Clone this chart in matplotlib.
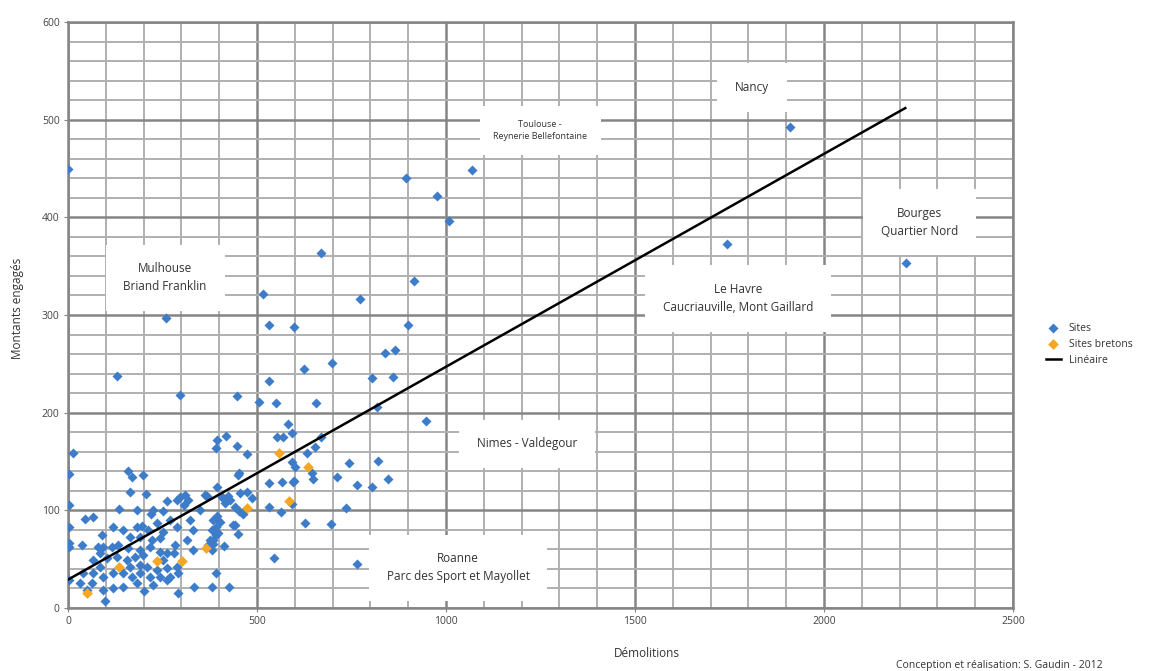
import numpy as np
import matplotlib
matplotlib.use("Agg")
import matplotlib.pyplot as plt
from matplotlib.ticker import MultipleLocator

plt.rcParams['font.family'] = ['Open Sans', 'DejaVu Sans']

# Sites (bleu) : démolitions, montants engagés
sites_x = [0, 1910, 894, 976, 1069, 1008, 1744, 2217,
           669, 516, 532, 598, 259, 773, 915, 900,
           130, 624, 698, 532, 296, 447,
           839, 865, 804, 860, 505, 550, 656, 817,
           582, 947, 592, 553, 569, 669,
           632, 653, 593, 600, 645, 649, 744, 821, 712, 765, 804, 847, 566, 532, 596,
           593, 532, 564, 735, 627, 696, 545, 764,
           487, 473, 450, 474, 448, 418, 395, 392, 453, 462, 451, 442, 424, 428, 410, 394,
           427, 380, 334, 392, 292, 202, 98,
           12, 3, 3, 3, 3, 3, 3,
           37, 45, 66, 159, 169, 198, 164, 206, 135, 182, 220, 225, 251, 261, 288, 296,
           310, 318, 307, 349, 368, 394, 407, 415, 455, 452, 384, 391, 392, 384, 371, 413,
           331, 283, 281, 288, 291, 270, 251, 235, 212, 196, 164, 146, 119, 90, 93, 79,
           116, 132, 159, 191, 217, 243, 262, 251, 198, 177, 156, 164, 191, 209, 235, 262,
           270, 243, 217, 191, 169, 146, 119, 93, 85, 66, 103, 130, 66, 40, 32, 63,
           50, 93, 119, 146, 182, 225, 262, 85, 191, 222, 243, 182, 315, 331, 323, 288,
           362, 442, 460, 402, 437, 381, 397, 376, 384, 381, 598]
sites_y = [450, 493, 440, 422, 448, 396, 373, 353,
           363, 322, 290, 288, 297, 316, 335, 290,
           238, 245, 251, 232, 218, 217,
           261, 264, 235, 237, 211, 210, 210, 206,
           188, 191, 179, 175, 175, 175,
           159, 165, 149, 144, 138, 132, 148, 150, 134, 126, 124, 132, 129, 128, 129,
           106, 103, 98, 102, 87, 86, 51, 45,
           113, 119, 136, 158, 166, 176, 172, 164, 99, 96, 76, 85, 115, 111, 113, 124,
           22, 22, 22, 36, 15, 17, 7,
           159, 137, 105, 83, 67, 62, 29,
           64, 91, 93, 140, 134, 136, 119, 117, 101, 100, 96, 100, 99, 110, 111, 114,
           116, 111, 105, 100, 115, 94, 114, 108, 118, 138, 90, 83, 75, 70, 64, 63,
           59, 64, 56, 42, 36, 90, 78, 87, 80, 84, 73, 80, 83, 75, 62, 62,
           62, 64, 61, 59, 62, 57, 56, 49, 54, 52, 49, 42, 44, 42, 39, 41,
           32, 32, 32, 36, 32, 36, 36, 32, 42, 49, 51, 52, 36, 36, 26, 26,
           18, 18, 20, 22, 26, 24, 29, 56, 73, 70, 72, 83, 70, 80, 90, 83,
           116, 103, 97, 88, 85, 80, 77, 70, 66, 59, 130]

# Sites bretons (orange)
bretons_x = [51, 136, 235, 301, 364, 474, 559, 585, 636]
bretons_y = [15, 42, 48, 48, 61, 102, 159, 110, 144]

# Courbe de tendance linéaire
trend_intercept = 29
trend_slope = 0.218
trend_x = [0, 2215]

labels = ['Mulhouse\nBriand Franklin', 'Toulouse -\nReynerie Bellefontaine', 'Nancy',
          'Bourges\nQuartier Nord', 'Le Havre\nCaucriauville, Mont Gaillard',
          'Nimes - Valdegour', 'Roanne\nParc des Sport et Mayollet']
label_pos = [(257, 338), (1249, 489), (1810, 533), (2252, 395), (1773, 317),
             (1215, 168), (1032, 41)]
label_size = [8.5, 6.5, 8.5, 8.5, 8.5, 8.5, 8.5]

fig = plt.figure(figsize=(11.68, 6.71), dpi=100)
ax = fig.add_axes([0.0582, 0.0939, 0.8091, 0.8733])

ax.set_xlim(0, 2500)
ax.set_ylim(0, 600)
ax.xaxis.set_major_locator(MultipleLocator(500))
ax.xaxis.set_minor_locator(MultipleLocator(100))
ax.yaxis.set_major_locator(MultipleLocator(100))
ax.yaxis.set_minor_locator(MultipleLocator(20))
ax.grid(True, which='minor', color='#b0b0b0', linewidth=1.4)
ax.grid(True, which='major', color='#858585', linewidth=1.8)
ax.set_axisbelow(True)
for s in ax.spines.values():
    s.set_color('#858585')
    s.set_linewidth(1.8)
ax.tick_params(which='minor', length=0)
ax.tick_params(which='major', length=3, color='#858585', labelsize=7.5,
               labelcolor='#444444', pad=3)

ax.scatter(sites_x, sites_y, marker='D', s=26, color='#3d7cc9', linewidths=0,
           zorder=3, label='Sites')
ax.scatter(bretons_x, bretons_y, marker='D', s=30, color='#f5a623', linewidths=0,
           zorder=4, label='Sites bretons')
tx = np.array(trend_x)
ax.plot(tx, trend_intercept + trend_slope * tx, color='black', linewidth=1.8,
        zorder=5, label='Linéaire')

for txt, (px, py), fs in zip(labels, label_pos, label_size):
    ax.text(px, py, txt, ha='center', va='center', fontsize=fs, color='#333333',
            linespacing=1.5, zorder=6,
            bbox=dict(boxstyle='square,pad=1.5', fc='white', ec='none'))

leg = ax.legend(loc='center left', bbox_to_anchor=(1.025, 0.45), frameon=False,
                fontsize=7.5, handlelength=1.4, handletextpad=0.8, labelspacing=0.5)
for t in leg.get_texts():
    t.set_color('#333333')

fig.text(0.554, 0.016, 'Démolitions', ha='center', va='bottom', fontsize=8.5,
         color='#333333')
fig.text(0.015, 0.54, 'Montants engagés', ha='center', va='center', rotation=90,
         fontsize=8.5, color='#333333')
fig.text(0.856, 0.0, 'Conception et réalisation: S. Gaudin - 2012', ha='center',
         va='bottom', fontsize=7.5, color='#333333')

fig.savefig('out.png', dpi=100)
